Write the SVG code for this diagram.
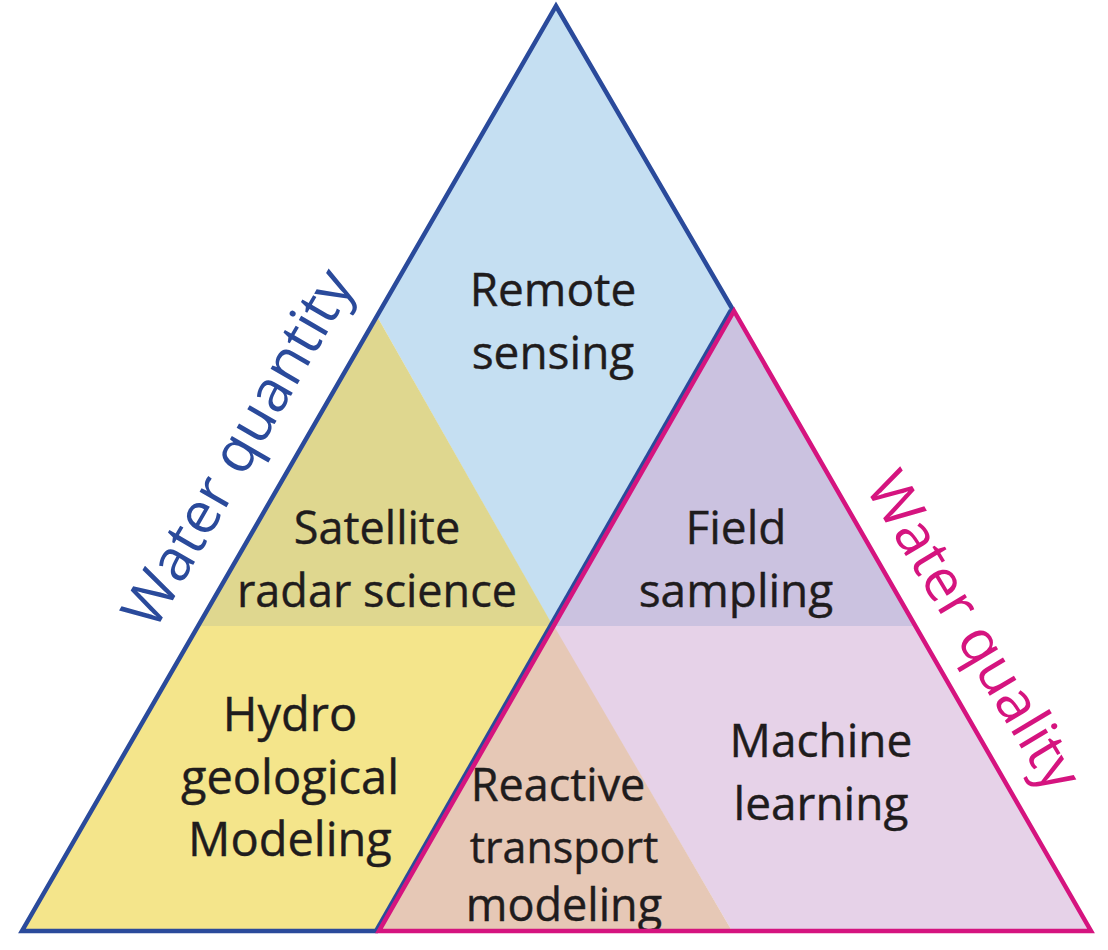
<svg xmlns="http://www.w3.org/2000/svg" width="1108" height="950" viewBox="0 0 1108 950">
<style>
.l{font-family:"Open Sans","Noto Sans","Liberation Sans",sans-serif;font-size:46px;fill:#1f1c1d;text-anchor:middle;stroke:#1f1c1d;stroke-width:.4}
.s{font-family:"Open Sans","Noto Sans","Liberation Sans",sans-serif;font-size:58px;text-anchor:middle}
.e{fill:none;stroke-width:4.5;stroke-linejoin:miter}
</style>
<rect width="1108" height="950" fill="#fff"/>
<g id="region-remote-sensing"><polygon points="556,6 733,310 553,627 378,318" fill="#c5dff2"/><text class="l"><tspan x="553" y="306">Remote</tspan><tspan x="553" y="369">sensing</tspan></text></g>
<g id="region-satellite"><polygon points="378,318 553,626 198,626" fill="#dfd78f"/><text class="l" style="font-size:45px"><tspan x="377" y="544">Satellite</tspan><tspan x="377" y="607">radar science</tspan></text></g>
<g id="region-hydro"><polygon points="198,626 553,626 378,931 22,931" fill="#f4e58b"/><text class="l" style="font-size:47px"><tspan x="290" y="731">Hydro</tspan><tspan x="290" y="794">geological</tspan><tspan x="290" y="856">Modeling</tspan></text></g>
<g id="region-field"><polygon points="733,310 915,626 553,626" fill="#cbc2e0"/><text class="l"><tspan x="736" y="544">Field</tspan><tspan x="736" y="607">sampling</tspan></text></g>
<g id="region-machine"><polygon points="553,626 915,626 1091,931 732,931" fill="#e6d2e8"/><text class="l"><tspan x="821" y="757">Machine</tspan><tspan x="821" y="820">learning</tspan></text></g>
<g id="region-reactive"><polygon points="554,626 732,931 378,931" fill="#e6c8b6"/><text class="l"><tspan x="558" y="801" style="font-size:45px">Reactive</tspan><tspan x="564" y="863" style="font-size:43px">transport</tspan><tspan x="564" y="921" style="font-size:45px">modeling</tspan></text></g>
<g id="connectors">
<polyline class="e" points="733,310 556,6 22,931 378,931" stroke="#2a4a9b"/>
<line x1="376" y1="931" x2="731" y2="310" stroke="#2a4a9b" stroke-width="4.5"/>
<polygon class="e" points="734,311 379,931 1091,931" stroke="#d5147f"/>
</g>
<g id="side-labels">
<text class="s" fill="#2a4a9b" transform="translate(255,458) rotate(-60)">Water quantity</text>
<text class="s" fill="#d5147f" transform="translate(957,641) rotate(59)">Water quality</text>
</g>
</svg>
